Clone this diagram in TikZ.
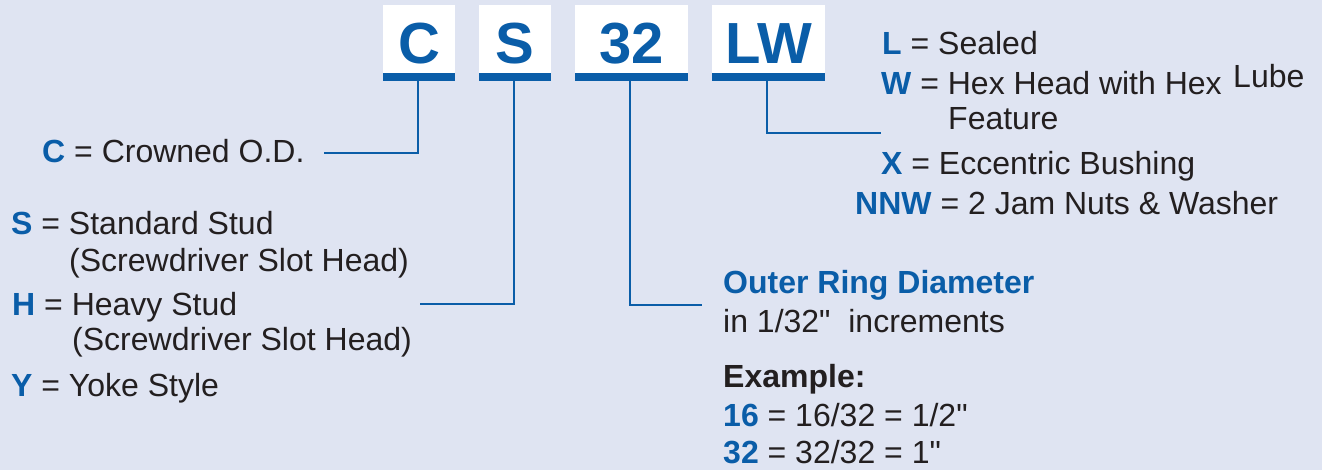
\documentclass[tikz,border=0pt]{standalone}
\usepackage{fontspec}
\setmainfont{Liberation Sans}[Ligatures=TeXOff]
\definecolor{bg}{HTML}{DFE4F2}
\definecolor{bblue}{HTML}{0A5DA8}
\definecolor{ink}{HTML}{231F20}
\newcommand{\kb}[1]{\textbf{\color{bblue}#1}}
\newcommand{\inch}{\symbol{34}}
\begin{document}
\begin{tikzpicture}[x=1pt,y=-1pt,
  codebox/.style={fill=white, inner sep=0pt, minimum height=76pt, text height=42pt, text depth=0pt,
     font=\fontsize{58}{60}\selectfont\bfseries, text=bblue,
     path picture={\fill[bblue] (path picture bounding box.south west) rectangle ([yshift=8pt]path picture bounding box.south east);}},
  conn/.style={draw=bblue, line width=2pt},
  lbl/.style={anchor=base west, inner sep=0pt, font=\fontsize{32}{36}\selectfont, text=ink}
]
\fill[bg] (0,0) rectangle (1322,470);
\useasboundingbox (0,0) rectangle (1322,470);

% code boxes
\node[codebox, minimum width=72pt] (cb) at (419,43) {C};
\node[codebox, minimum width=72pt] (sb) at (515,43) {S};
\node[codebox, minimum width=113pt] (nb) at (631.5,43) {32};
\node[codebox, minimum width=113pt] (lb) at (768.5,43) {LW};

% connector ends
\coordinate (ce) at (324,153);
\coordinate (se) at (420,304);
\coordinate (ne) at (702,305);
\coordinate (le) at (881,133);

\draw[conn] ([xshift=-1pt]cb.south) |- (ce);
\draw[conn] ([xshift=-1pt]sb.south) |- (se);
\draw[conn] ([xshift=-1.5pt]nb.south) |- (ne);
\draw[conn] ([xshift=-1.5pt]lb.south) |- (le);

% left labels
\node[lbl] (tc) at (42,163) {\kb{C} = Crowned O.D.};
\node[lbl] (ts) at (11,235) {\kb{S} = Standard Stud};
\node[lbl] (ts2) at (69,272) {(Screwdriver Slot Head)};
\node[lbl] (th) at (12,315) {\kb{H} = Heavy Stud};
\node[lbl] (th2) at (72,350) {(Screwdriver Slot Head)};
\node[lbl] (ty) at (11,396) {\kb{Y} = Yoke Style};

% right labels
\node[lbl] (tl) at (882,55) {\kb{L} = Sealed};
\node[lbl] (tw) at (881,95) {\kb{W} = Hex Head with Hex};
\node[lbl] (tlube) at (1233,88) {Lube};
\node[lbl] (tf) at (948,130) {Feature};
\node[lbl] (tx) at (881,175) {\kb{X} = Eccentric Bushing};
\node[lbl] (tn) at (855,215) {\kb{NNW} = 2 Jam Nuts \& Washer};

% diameter labels
\node[lbl] (to) at (723,294) {\kb{Outer Ring Diameter}};
\node[lbl] (ti) at (723,332) {in 1/32"\ \ increments};
\node[lbl] (te) at (723,387) {\textbf{Example:}};
\node[lbl] (t16) at (723,426) {\kb{16} = 16/32 = 1/2"};
\node[lbl] (t32) at (723,463) {\kb{32} = 32/32 = 1"};
\end{tikzpicture}
\end{document}
